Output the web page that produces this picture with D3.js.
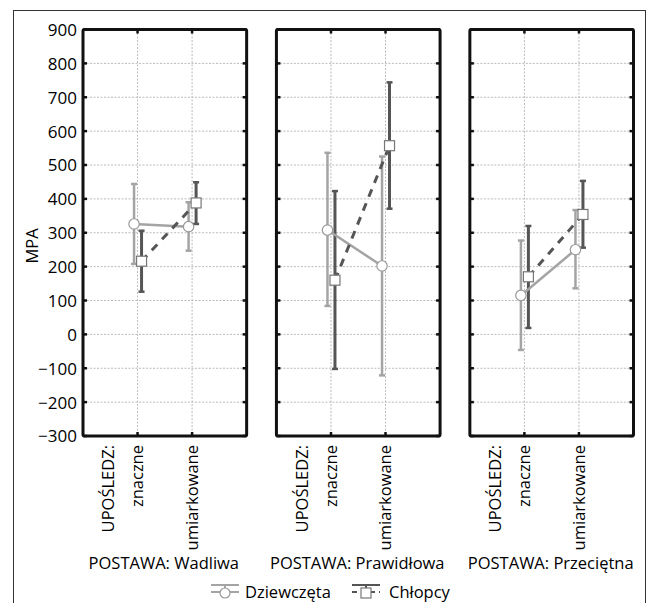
<!DOCTYPE html>
<html><head><meta charset="utf-8">
<script src="https://cdn.jsdelivr.net/npm/d3@7"></script>
<style>
html,body{margin:0;padding:0;background:#fff;}
text{font-family:"Open Sans",sans-serif;fill:#000;}
</style></head><body>
<svg id="c" width="650" height="603"></svg>
<script>
// ---- data ----
const postawy = ["Wadliwa", "Prawidłowa", "Przeciętna"];
const uposledzenie = ["znaczne", "umiarkowane"];
const yTickValues = [-300, -200, -100, 0, 100, 200, 300, 400, 500, 600, 700, 800, 900];
const seriesNames = ["Dziewczęta", "Chłopcy"];
// [postawa][uposledzenie]
const girlsMean = [[326, 318], [308, 202], [115, 250]];
const girlsLow  = [[208, 247], [84, -121], [-46, 136]];
const girlsHigh = [[444, 390], [536, 525], [277, 367]];
const boysMean  = [[216, 388], [160, 557], [170, 354]];
const boysLow   = [[126, 326], [-102, 371], [19, 256]];
const boysHigh  = [[306, 449], [423, 744], [320, 453]];

(function () {
const svg = d3.select("#c");
const plotTop = 29.5, plotBottom = 436;
const fs = 16.5;
const y = d3.scaleLinear().domain([-300, 900]).range([plotBottom, plotTop]);
const px = d3.scaleBand().domain(postawy).range([83, 633.5]).paddingInner(0.154).paddingOuter(0);
const pw = px.bandwidth();
const cx = d3.scaleLinear().domain([0, 3]).range([0, pw]);

const colG = "#a4a4a4", colB = "#555555";
const series = [
  {name: seriesNames[0], mean: girlsMean, low: girlsLow, high: girlsHigh, color: colG, off: -3.5, dash: null, sw: 2.5, marker: "circle"},
  {name: seriesNames[1], mean: boysMean, low: boysLow, high: boysHigh, color: colB, off: 4, dash: "8,7", sw: 3, marker: "square"}
];

// outer frame
svg.append("rect").attr("x", 13.5).attr("y", 10.5).attr("width", 632).attr("height", 620)
  .attr("fill", "none").attr("stroke", "#333").attr("stroke-width", 1);

// y-axis labels
const yAxis = d3.axisLeft(y).tickValues(yTickValues).tickSize(0).tickPadding(0).tickFormat(d3.format("d"));
const ya = svg.append("g").attr("transform", "translate(77,0)").call(yAxis);
ya.select(".domain").remove();
ya.selectAll("text").attr("font-size", 17).attr("font-family", "Open Sans").attr("fill", "#000").attr("dy", "0.35em");

svg.append("text").attr("transform", "translate(38,246) rotate(-90)")
  .attr("text-anchor", "middle").attr("font-size", fs).text("MPA");

postawy.forEach((p, pi) => {
  const x0 = px(p);
  const g = svg.append("g").attr("transform", `translate(${x0},0)`);
  // grid
  g.selectAll(".hg").data(yTickValues.slice(1, -1)).join("line")
    .attr("x1", 0).attr("x2", pw).attr("y1", d => y(d)).attr("y2", d => y(d))
    .attr("stroke", "#bbbbbb").attr("stroke-width", 1).attr("stroke-dasharray", "2,1.5");
  g.selectAll(".vg").data(uposledzenie).join("line")
    .attr("x1", (d, i) => cx(i + 1)).attr("x2", (d, i) => cx(i + 1)).attr("y1", plotTop).attr("y2", plotBottom)
    .attr("stroke", "#bbbbbb").attr("stroke-width", 1).attr("stroke-dasharray", "2,1.5");
  // frame ticks
  yTickValues.forEach(v => {
    [[0, 4], [pw, pw - 4]].forEach(([a, b]) => {
      g.append("line").attr("x1", a).attr("x2", b).attr("y1", y(v)).attr("y2", y(v))
        .attr("stroke", "#111").attr("stroke-width", 2.5);
    });
  });
  uposledzenie.forEach((u, ui) => {
    [[plotTop, plotTop + 4], [plotBottom, plotBottom - 4]].forEach(([a, b]) => {
      g.append("line").attr("x1", cx(ui + 1)).attr("x2", cx(ui + 1)).attr("y1", a).attr("y2", b)
        .attr("stroke", "#111").attr("stroke-width", 2.5);
    });
  });
  // error bars
  series.forEach(s => {
    uposledzenie.forEach((u, ui) => {
      const xx = cx(ui + 1) + s.off;
      g.append("line").attr("x1", xx).attr("x2", xx).attr("y1", y(s.low[pi][ui])).attr("y2", y(s.high[pi][ui]))
        .attr("stroke", s.color).attr("stroke-width", s.sw);
      [s.low[pi][ui], s.high[pi][ui]].forEach(v => {
        g.append("line").attr("x1", xx - 3).attr("x2", xx + 3).attr("y1", y(v)).attr("y2", y(v))
          .attr("stroke", s.color).attr("stroke-width", 2.5);
      });
    });
  });
  // lines
  series.forEach(s => {
    const line = d3.line().x((d, i) => cx(i + 1) + s.off).y(d => y(d));
    g.append("path").attr("d", line(s.mean[pi])).attr("fill", "none")
      .attr("stroke", s.color).attr("stroke-width", s.sw)
      .attr("stroke-dasharray", s.dash);
  });
  // markers
  series.forEach(s => {
    s.mean[pi].forEach((v, ui) => {
      const xx = cx(ui + 1) + s.off;
      if (s.marker === "circle") {
        g.append("circle").attr("cx", xx).attr("cy", y(v)).attr("r", 5.2)
          .attr("fill", "#fff").attr("stroke", "#999").attr("stroke-width", 1.2);
      } else {
        g.append("rect").attr("x", xx - 5).attr("y", y(v) - 5).attr("width", 10).attr("height", 10)
          .attr("fill", "#fff").attr("stroke", "#777").attr("stroke-width", 1.2);
      }
    });
  });
  // frame
  g.append("rect").attr("x", 0).attr("y", plotTop).attr("width", pw).attr("height", plotBottom - plotTop)
    .attr("fill", "none").attr("stroke", "#111").attr("stroke-width", 3).attr("rx", 1.5);
  // x labels
  g.append("text").attr("transform", `translate(${cx(1) - 29},445) rotate(-90)`)
    .attr("text-anchor", "end").attr("dy", "0.35em").attr("font-size", fs).text("UPOŚLEDZ:");
  uposledzenie.forEach((u, ui) => {
    g.append("text").attr("transform", `translate(${cx(ui + 1)},445) rotate(-90)`)
      .attr("text-anchor", "end").attr("dy", "0.35em").attr("font-size", fs).text(u);
  });
  g.append("text").attr("x", pw / 2 - 1).attr("y", 569).attr("text-anchor", "middle")
    .attr("font-size", fs).text("POSTAWA: " + p);
});

// legend
const leg = svg.append("g");
const legItems = [{s: series[0], x: 211, tx: 245}, {s: series[1], x: 352, tx: 389}];
legItems.forEach(({s, x, tx}) => {
  const cy = 592, w = 28, c = x + w / 2;
  leg.append("line").attr("x1", x).attr("x2", x + w).attr("y1", cy).attr("y2", cy)
    .attr("stroke", s.color).attr("stroke-width", 2).attr("stroke-dasharray", s.dash ? "5,4" : null);
  leg.append("line").attr("x1", x).attr("x2", x + w).attr("y1", cy - 7).attr("y2", cy - 7)
    .attr("stroke", s.color).attr("stroke-width", 2);
  leg.append("line").attr("x1", c).attr("x2", c).attr("y1", cy - 7).attr("y2", cy + 6)
    .attr("stroke", s.color).attr("stroke-width", 2);
  if (s.marker === "circle") {
    leg.append("circle").attr("cx", c).attr("cy", cy + 1).attr("r", 5).attr("fill", "#fff").attr("stroke", "#999").attr("stroke-width", 1.2);
  } else {
    leg.append("rect").attr("x", c - 5).attr("y", cy - 4).attr("width", 10).attr("height", 10).attr("fill", "#fff").attr("stroke", "#777").attr("stroke-width", 1.2);
  }
  leg.append("text").attr("x", tx).attr("y", 598).attr("font-size", fs).text(s.name);
});
})();
</script></body></html>
